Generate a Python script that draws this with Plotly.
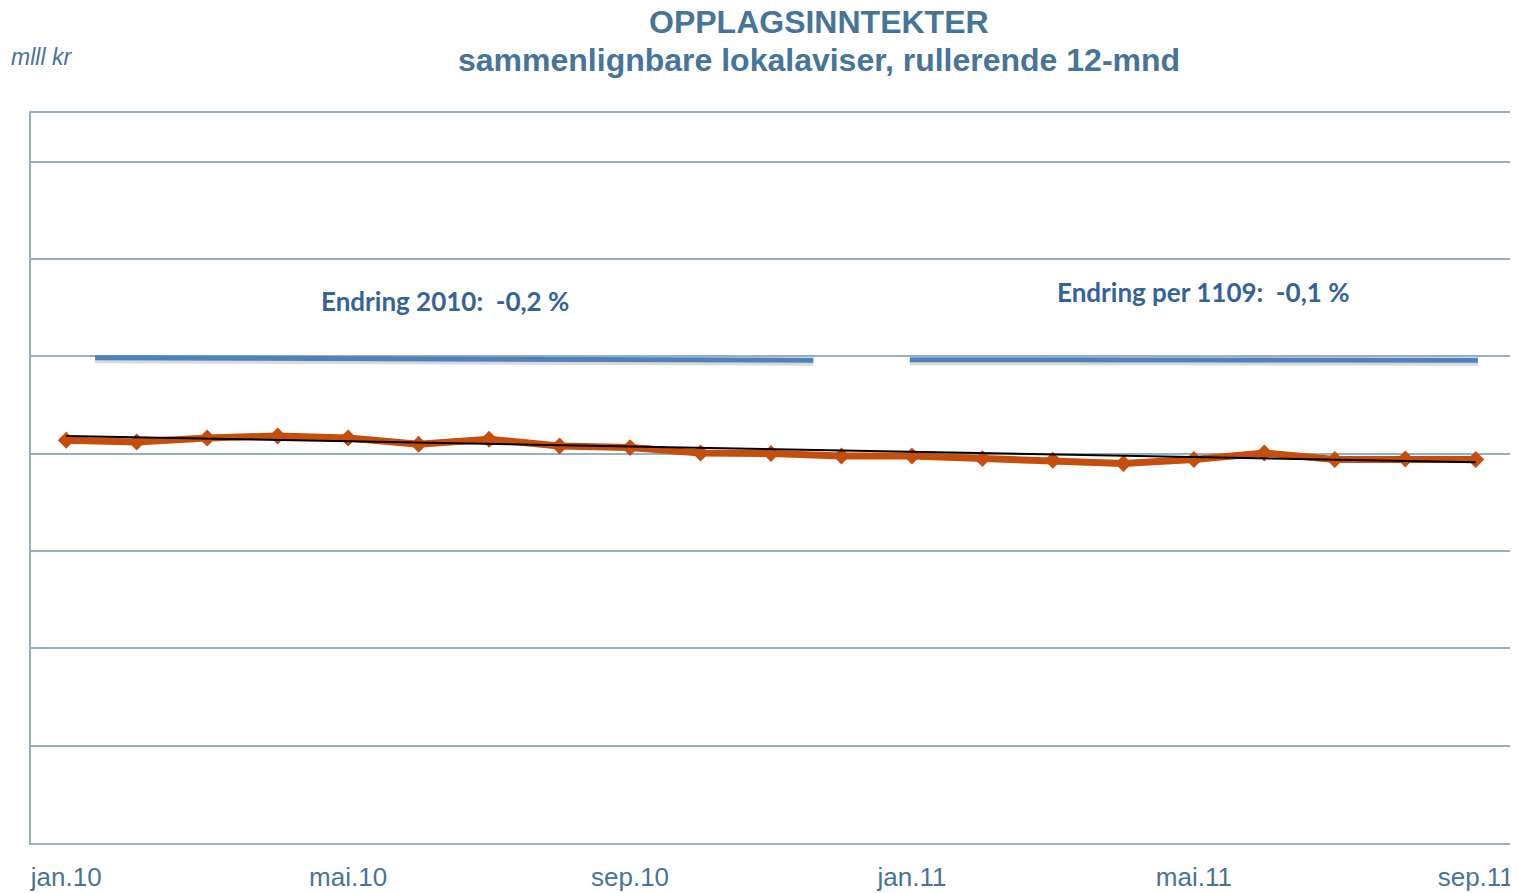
import plotly.graph_objects as go

# ---- data ----
months = ["jan.10", "feb.10", "mar.10", "apr.10", "mai.10", "jun.10", "jul.10",
          "aug.10", "sep.10", "okt.10", "nov.10", "des.10", "jan.11", "feb.11",
          "mar.11", "apr.11", "mai.11", "jun.11", "jul.11", "aug.11", "sep.11"]
revenue = [827.5, 824.0, 832.2, 836.3, 832.2, 819.3, 829.6, 815.8, 812.5, 801.4,
           800.2, 795.3, 795.3, 789.9, 786.4, 779.7, 787.9, 801.4, 787.9, 789.1, 787.9]
trend_x = ["jan.10", "sep.11"]
trend_y = [836.3, 782.3]

tick_months = ["jan.10", "mai.10", "sep.10", "jan.11", "mai.11", "sep.11"]
y_ticks = [0, 200, 400, 600, 800, 1000, 1200, 1400]

# change-marker bars (x in category index units, y in axis units)
bar2010_x = [0.41, 10.6]
bar2010_y = [997, 992]
bar2011_x = [11.97, 20.03]
bar2011_y = [993, 992]

label2010 = "Endring 2010:  -0,2 %"
label2011 = "Endring per 1109:  -0,1 %"

TXT = "#467599"
GRID = "#94B0C2"
ORANGE = "#C64E0C"
BLUE = "#4F81BD"

fig = go.Figure()

for bx, by in [(bar2010_x, bar2010_y), (bar2011_x, bar2011_y)]:
    fig.add_trace(go.Scatter(x=bx, y=[v - 4 for v in by], xaxis="x2", mode="lines",
                             line=dict(color="rgba(0,0,0,0.15)", width=7),
                             hoverinfo="skip", showlegend=False))
    fig.add_trace(go.Scatter(x=bx, y=by, xaxis="x2", mode="lines",
                             line=dict(color=BLUE, width=5),
                             hoverinfo="skip", showlegend=False))

fig.add_trace(go.Scatter(x=months, y=revenue, mode="lines+markers",
                         line=dict(color=ORANGE, width=7),
                         marker=dict(symbol="diamond", size=13, color=ORANGE),
                         showlegend=False))
fig.add_trace(go.Scatter(x=trend_x, y=trend_y, mode="lines",
                         line=dict(color="black", width=2),
                         showlegend=False))

# page offset of the plot div (browser default body margin)
OFF = 8
W, H = 1518 - OFF, 893 - OFF
L, R, T, B = 31 - OFF, 1518 - 1511, 113 - OFF, 893 - 843
fig.update_layout(
    width=W, height=H,
    margin=dict(l=L, r=R, t=T, b=B),
    paper_bgcolor="white", plot_bgcolor="white",
    font=dict(family="Liberation Sans, Arial, sans-serif", color=TXT),
    xaxis=dict(type="category", categoryorder="array", categoryarray=months,
               range=[-0.5, 20.5], tickmode="array", tickvals=tick_months,
               ticktext=tick_months, showgrid=False, showline=True, mirror=True,
               linecolor=GRID, linewidth=2, ticks="", ticklabelstandoff=10,
               tickfont=dict(size=26, color=TXT), zeroline=False, automargin=False),
    xaxis2=dict(overlaying="x", range=[-0.5, 20.5], visible=False),
    yaxis=dict(range=[0, 1500], tickvals=y_ticks, showgrid=True, gridcolor=GRID,
               gridwidth=2, showline=True, mirror=True, linecolor=GRID, linewidth=2,
               ticks="", ticklabelstandoff=19, tickfont=dict(size=22, color=TXT),
               ticklabeloverflow="allow", zeroline=False, automargin=False),
)

pw, ph = W - L - R, H - T - B
def px(x): return (x - OFF - L) / pw
def py(y): return (H - B - (y - OFF)) / ph

texts = [
    ("<b>OPPLAGSINNTEKTER</b>", 819, 22, dict(size=32, color=TXT)),
    ("<b>sammenlignbare lokalaviser, rullerende 12-mnd</b>", 819, 60, dict(size=32, color=TXT)),
    ("<i>mlll kr</i>", 41, 57, dict(size=23, color=TXT)),
    ("<b>" + label2010 + "</b>", 445, 301, dict(family="Lato, sans-serif", size=26, color="#33639A")),
    ("<b>" + label2011 + "</b>", 1203, 292, dict(family="Lato, sans-serif", size=26, color="#33639A")),
]
for t, x, y, f in texts:
    fig.add_annotation(text=t, xref="paper", yref="paper", x=px(x), y=py(y),
                       xanchor="center", yanchor="middle", showarrow=False, font=f)

fig.write_html("out.html")
